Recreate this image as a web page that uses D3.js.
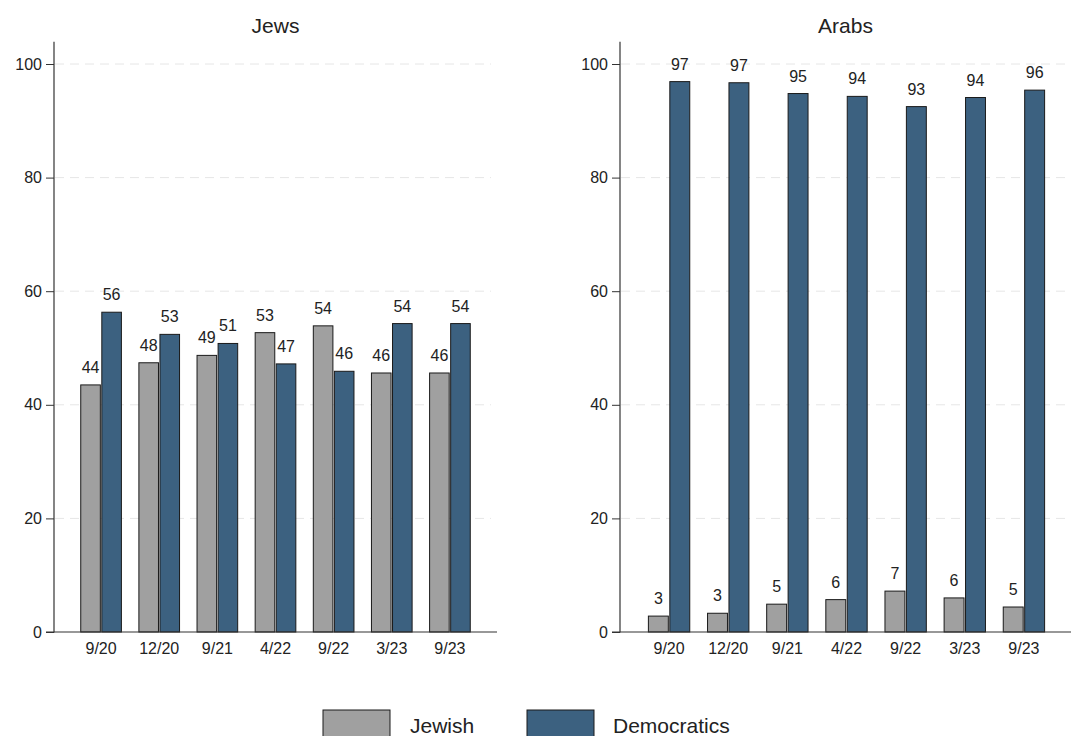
<!DOCTYPE html>
<html><head><meta charset="utf-8">
<script src="https://cdn.jsdelivr.net/npm/d3@7"></script>
<style>
body{margin:0;background:#fff;}
text{font-family:"Liberation Sans",Arial,Helvetica,sans-serif;fill:#222;}
</style></head>
<body><svg id="c" width="1071" height="736"></svg>
<script>
const categories = ["9/20","12/20","9/21","4/22","9/22","3/23","9/23"];
const seriesNames = ["Jewish","Democratics"];
const jewsJewish = [43.5,47.4,48.7,52.7,53.9,45.6,45.6];
const jewsDemocratic = [56.3,52.4,50.8,47.2,45.9,54.3,54.3];
const jewsJewishLabels = ["44","48","49","53","54","46","46"];
const jewsDemocraticLabels = ["56","53","51","47","46","54","54"];
const arabsJewish = [2.8,3.3,4.9,5.7,7.2,6.0,4.4];
const arabsDemocratic = [96.9,96.7,94.8,94.3,92.5,94.1,95.4];
const arabsJewishLabels = ["3","3","5","6","7","6","5"];
const arabsDemocraticLabels = ["97","97","95","94","93","94","96"];
const yTicks = [0,20,40,60,80,100];
const colors = ["#a0a0a0","#3c6180"];
const FONT = '"Liberation Sans",Arial,sans-serif';

const svg = d3.select("#c");
const y = d3.scaleLinear().domain([0,100]).range([632,64]);
const yTop = y(103.9);

function panel(title, axisX, plotRight, bandRange, s1, s2, l1, l2){
  const g = svg.append("g");
  g.selectAll(".grid").data(yTicks.filter(d=>d>0)).enter().append("line")
    .attr("x1",axisX+1).attr("x2",plotRight-6).attr("y1",d=>y(d)).attr("y2",d=>y(d))
    .attr("stroke","#e6e6e6").attr("stroke-width",1).attr("stroke-dasharray","9,6");
  const x0 = d3.scaleBand().domain(categories).range(bandRange).paddingInner(0.25).paddingOuter(0.125);
  const x1 = d3.scaleBand().domain(seriesNames).range([0,x0.bandwidth()]).padding(0.07);
  const rows = categories.map((c,i)=>({c, vals:[s1[i],s2[i]], labs:[l1[i],l2[i]]}));
  const grp = g.selectAll(".grp").data(rows).enter().append("g")
    .attr("transform",d=>`translate(${x0(d.c)},0)`);
  grp.selectAll("rect").data(d=>d.vals.map((v,k)=>({k,v}))).enter().append("rect")
    .attr("x",d=>x1(seriesNames[d.k])).attr("width",x1.bandwidth())
    .attr("y",d=>y(d.v)).attr("height",d=>y(0)-y(d.v))
    .attr("fill",d=>colors[d.k]).attr("stroke","#1a1a1a").attr("stroke-width",1);
  grp.selectAll(".lab").data(d=>d.labs.map((t,k)=>({k,t,v:d.vals[k]}))).enter().append("text")
    .attr("x",d=>x1(seriesNames[d.k])+x1.bandwidth()/2).attr("y",d=>y(d.v)-12)
    .attr("text-anchor","middle").attr("font-size",16).text(d=>d.t);
  const ya = d3.axisLeft(y).tickValues(yTicks).tickSize(8).tickPadding(4);
  const ag = g.append("g").attr("transform",`translate(${axisX},0)`).call(ya);
  ag.select(".domain").remove();
  ag.selectAll(".tick line").attr("stroke","#333");
  ag.selectAll(".tick text").attr("font-size",16).attr("font-family",FONT).attr("fill","#222");
  g.append("line").attr("x1",axisX).attr("x2",axisX).attr("y1",yTop).attr("y2",y(0)+0.5).attr("stroke","#333").attr("stroke-width",1.2);
  g.append("line").attr("x1",axisX-8).attr("x2",plotRight).attr("y1",y(0)).attr("y2",y(0)).attr("stroke","#333").attr("stroke-width",1.2);
  const xa = d3.axisBottom(x0).tickSize(0).tickPadding(11);
  const xg = g.append("g").attr("transform",`translate(0,${y(0)})`).call(xa);
  xg.select(".domain").remove();
  xg.selectAll(".tick text").attr("font-size",16).attr("font-family",FONT).attr("fill","#222");
  g.append("text").attr("x",(axisX+plotRight)/2).attr("y",33).attr("text-anchor","middle").attr("font-size",21).text(title);
}

panel("Jews", 54, 497, [72,479], jewsJewish, jewsDemocratic, jewsJewishLabels, jewsDemocraticLabels);
panel("Arabs", 620, 1071, [639.5,1053.5], arabsJewish, arabsDemocratic, arabsJewishLabels, arabsDemocraticLabels);

const leg = svg.append("g");
const legX = [323, 527];
const legTextX = [410, 613];
seriesNames.forEach((n,k)=>{
  leg.append("rect").attr("x",legX[k]).attr("y",710).attr("width",67).attr("height",30)
    .attr("fill",colors[k]).attr("stroke","#1a1a1a").attr("stroke-width",1);
  leg.append("text").attr("x",legTextX[k]).attr("y",733).attr("font-size",21).text(n);
});
</script></body></html>
